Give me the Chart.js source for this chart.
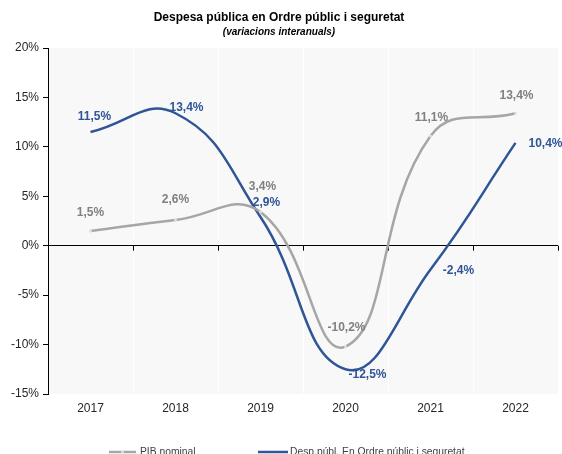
<!DOCTYPE html>
<html>
<head>
<meta charset="utf-8">
<script src="https://cdn.jsdelivr.net/npm/chart.js@4"></script>
<style>
  html, body { margin: 0; padding: 0; background: #ffffff; }
  #wrap { width: 562px; height: 454px; }
</style>
</head>
<body>
<div id="wrap"><canvas id="myChart" width="562" height="454"></canvas></div>
<script>
// dades
const years = ['2017', '2018', '2019', '2020', '2021', '2022'];
const pibNominal = [1.5, 2.6, 3.4, -10.2, 11.1, 13.4];
const despOrdre = [11.5, 13.4, 2.9, -12.5, -2.4, 10.4];
const yTicks = [-15, -10, -5, 0, 5, 10, 15, 20];

const titleText = 'Despesa pública en Ordre públic i seguretat';
const subtitleText = '(variacions interanuals)';
const seriesNames = ['PIB nominal', 'Desp.públ. En Ordre públic i seguretat'];

const grayColor = '#a6a6a6';
const blueColor = '#2f5597';

// desplaçament de les etiquetes (com a Excel)
const labelShift = [
  [[0, -18], [0, -20], [2, -25], [1, -19], [1, -18], [1, -18]],
  [[4, -15], [11, -6], [6, -14], [22, 5], [28, 1], [30, 1]]
];
const labelColors = ['#808080', blueColor];

function fmt(v) {
  return v.toFixed(1).replace('.', ',') + '%';
}

// fons gris de l'àrea del gràfic
const plotBg = {
  id: 'plotBg',
  beforeDraw(chart) {
    const { ctx, chartArea: a } = chart;
    ctx.save();
    ctx.fillStyle = '#f8f8f8';
    ctx.fillRect(a.left, a.top, a.right - a.left, a.bottom - a.top);
    ctx.restore();
  }
};

// marques sobre l'eix del zero
const zeroTicks = {
  id: 'zeroTicks',
  beforeDatasetsDraw(chart) {
    const { ctx } = chart;
    const x = chart.scales.x, y = chart.scales.y;
    const y0 = y.getPixelForValue(0);
    ctx.save();
    ctx.strokeStyle = '#000';
    ctx.lineWidth = 1;
    for (let i = 0; i <= years.length; i++) {
      const px = Math.round(x.getPixelForValue(i - 0.5)) + 0.5;
      ctx.beginPath();
      ctx.moveTo(px, y0);
      ctx.lineTo(px, y0 + 5);
      ctx.stroke();
    }
    ctx.restore();
  }
};

// etiquetes de dades
const valueLabels = {
  id: 'valueLabels',
  afterDatasetsDraw(chart) {
    const { ctx } = chart;
    ctx.save();
    ctx.font = 'bold 12px "Liberation Sans", Arial, sans-serif';
    ctx.textAlign = 'center';
    ctx.textBaseline = 'middle';
    chart.data.datasets.forEach((ds, di) => {
      const meta = chart.getDatasetMeta(di);
      ctx.fillStyle = labelColors[di];
      meta.data.forEach((pt, i) => {
        const s = labelShift[di][i];
        ctx.fillText(fmt(ds.data[i]), pt.x + s[0], pt.y + s[1]);
      });
    });
    ctx.restore();
  }
};

// llegenda a baix
const bottomLegend = {
  id: 'bottomLegend',
  afterDraw(chart) {
    const { ctx } = chart;
    const y = 452;
    ctx.save();
    ctx.lineWidth = 2.5;
    ctx.strokeStyle = grayColor;
    ctx.beginPath(); ctx.moveTo(109, y); ctx.lineTo(136, y); ctx.stroke();
    ctx.fillStyle = '#d9d9d9';
    ctx.fillRect(121, y - 1, 3, 2);
    ctx.strokeStyle = blueColor;
    ctx.beginPath(); ctx.moveTo(258, y); ctx.lineTo(288, y); ctx.stroke();
    ctx.fillStyle = '#404040';
    ctx.font = '10.3px "Liberation Sans", Arial, sans-serif';
    ctx.textBaseline = 'middle';
    ctx.fillText(seriesNames[0], 140, y);
    ctx.fillText(seriesNames[1], 290, y);
    ctx.restore();
  }
};

const ctx = document.getElementById('myChart').getContext('2d');
new Chart(ctx, {
  type: 'line',
  data: {
    labels: years,
    datasets: [
      {
        label: seriesNames[0],
        data: pibNominal,
        borderColor: grayColor,
        borderWidth: 2.5,
        tension: 0.45,
        pointRadius: 1.5,
        pointBackgroundColor: '#e0e0e0',
        pointBorderColor: '#e0e0e0',
        pointBorderWidth: 0
      },
      {
        label: seriesNames[1],
        data: despOrdre,
        borderColor: blueColor,
        borderWidth: 2.5,
        tension: 0.45,
        pointRadius: 0
      }
    ]
  },
  options: {
    responsive: false,
    animation: false,
    layout: { padding: { left: 0, right: 4, top: 0, bottom: 30 } },
    plugins: {
      legend: { display: false },
      tooltip: { enabled: false },
      title: {
        display: true,
        text: titleText,
        color: '#000',
        font: { family: '"Liberation Sans", Arial, sans-serif', size: 12, weight: 'bold' },
        padding: { top: 10, bottom: 1 }
      },
      subtitle: {
        display: true,
        text: subtitleText,
        color: '#000',
        font: { family: '"Liberation Sans", Arial, sans-serif', size: 10, weight: 'bold', style: 'italic' },
        padding: { top: 1, bottom: 9.6 }
      }
    },
    scales: {
      x: {
        type: 'category',
        offset: true,
        grid: { color: '#ffffff', offset: true, drawTicks: false },
        border: { display: false },
        ticks: {
          color: '#262626',
          padding: 7,
          font: { family: '"Liberation Sans", Arial, sans-serif', size: 12 }
        },
        afterFit(scale) { scale.height = 30; }
      },
      y: {
        min: -15,
        max: 20,
        afterBuildTicks(scale) { scale.ticks = yTicks.map(v => ({ value: v })); },
        grid: {
          color: c => (c.tick && c.tick.value === 0 ? '#000000' : 'rgba(0,0,0,0)'),
          tickColor: '#000000',
          tickLength: 5,
          lineWidth: 1
        },
        border: { display: true, color: '#000000', width: 1 },
        ticks: {
          color: '#262626',
          padding: 4,
          font: { family: '"Liberation Sans", Arial, sans-serif', size: 12 },
          callback: v => v + '%'
        },
        afterFit(scale) { scale.width = 48; }
      }
    }
  },
  plugins: [plotBg, zeroTicks, valueLabels, bottomLegend]
});
</script>
</body>
</html>
